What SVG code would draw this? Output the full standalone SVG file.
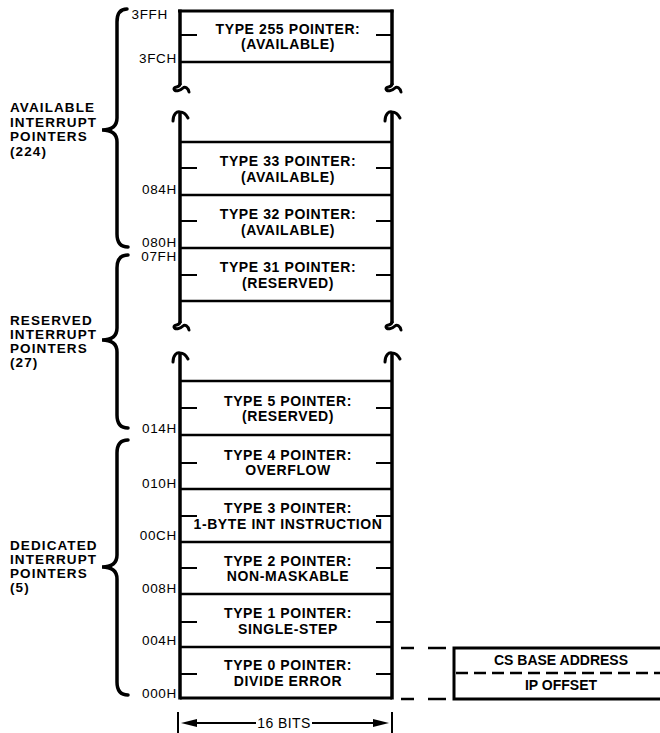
<svg xmlns="http://www.w3.org/2000/svg" width="660" height="733" viewBox="0 0 660 733">
<style>
.h{stroke:#000;stroke-width:2.5;fill:none}
.v{stroke:#000;stroke-width:3.5;fill:none}
.tk{stroke:#000;stroke-width:2;fill:none}
.br{stroke:#000;stroke-width:3;fill:none;stroke-linecap:round}
.bc{stroke:#000;stroke-width:3.5;fill:none;stroke-linecap:round;stroke-linejoin:miter}
.t{font-family:"Liberation Sans",Arial,sans-serif;font-size:14px;font-weight:bold;letter-spacing:0.6px;text-anchor:middle;fill:#000}
.a{font-family:"Liberation Sans",Arial,sans-serif;font-size:13.5px;letter-spacing:0.7px;text-anchor:end;fill:#000}
.g{font-family:"Liberation Sans",Arial,sans-serif;font-size:13.5px;font-weight:bold;letter-spacing:1.1px;fill:#000}
.r{font-family:"Liberation Sans",Arial,sans-serif;font-size:14px;font-weight:bold;text-anchor:middle;fill:#000}
.d{stroke:#000;stroke-width:2.5;fill:none}
</style>
<rect width="660" height="733" fill="#fff"/>

<g id="frame">
  <line class="v" x1="180" y1="9.5" x2="180" y2="85"/>
  <line class="v" x1="392" y1="9.5" x2="392" y2="85"/>
  <path class="br" d="M180,84 C180,88 174,86 174,89 C175,92 180,91 183,88 C185,86 188,88 189,92"/>
  <path class="br" d="M392,84 C392,88 386,86 386,89 C387,92 392,91 395,88 C397,86 400,88 401,92"/>
  <path class="br" d="M173,121 C173,114 177,111 180,112 C183,112 186,114 188,118"/>
  <path class="br" d="M385,121 C385,114 389,111 392,112 C395,112 398,114 400,118"/>
  <line class="v" x1="180" y1="113" x2="180" y2="323"/>
  <line class="v" x1="392" y1="113" x2="392" y2="323"/>
  <path class="br" d="M180,322 C180,326 174,324 174,327 C175,330 180,329 183,326 C185,324 188,326 189,330"/>
  <path class="br" d="M392,322 C392,326 386,324 386,327 C387,330 392,329 395,326 C397,324 400,326 401,330"/>
  <path class="br" d="M173,362 C173,355 177,352 180,353 C183,353 186,355 188,359"/>
  <path class="br" d="M385,362 C385,355 389,352 392,353 C395,353 398,355 400,359"/>
  <line class="v" x1="180" y1="354" x2="180" y2="699.5"/>
  <line class="v" x1="392" y1="354" x2="392" y2="699.5"/>
  <line class="h" x1="180" y1="62" x2="392" y2="62"/>
  <line class="h" x1="180" y1="301" x2="392" y2="301"/>
  <line class="h" x1="180" y1="698" x2="392" y2="698" style="stroke-width:3"/>
</g>

<g id="cell-255">
  <line class="h" x1="178" y1="11" x2="393.5" y2="11" style="stroke-width:3"/>
  <line class="tk" x1="180" y1="35" x2="197" y2="35"/><line class="tk" x1="376" y1="35" x2="392" y2="35"/>
  <text class="t" x="288" y="33.5">TYPE 255 POINTER:</text>
  <text class="t" x="288" y="49">(AVAILABLE)</text>
</g>
<g id="cell-33">
  <line class="h" x1="180" y1="142" x2="392" y2="142"/>
  <line class="tk" x1="180" y1="168" x2="197" y2="168"/><line class="tk" x1="376" y1="168" x2="392" y2="168"/>
  <text class="t" x="288" y="166">TYPE 33 POINTER:</text>
  <text class="t" x="288" y="181.5">(AVAILABLE)</text>
</g>
<g id="cell-32">
  <line class="h" x1="180" y1="195" x2="392" y2="195"/>
  <line class="tk" x1="180" y1="221" x2="197" y2="221"/><line class="tk" x1="376" y1="221" x2="392" y2="221"/>
  <text class="t" x="288" y="219">TYPE 32 POINTER:</text>
  <text class="t" x="288" y="234.5">(AVAILABLE)</text>
</g>
<g id="cell-31">
  <line class="h" x1="180" y1="248" x2="392" y2="248"/>
  <line class="tk" x1="180" y1="275" x2="197" y2="275"/><line class="tk" x1="376" y1="275" x2="392" y2="275"/>
  <text class="t" x="288" y="272">TYPE 31 POINTER:</text>
  <text class="t" x="288" y="287.5">(RESERVED)</text>
</g>
<g id="cell-5">
  <line class="h" x1="180" y1="381" x2="392" y2="381"/>
  <line class="tk" x1="180" y1="408" x2="197" y2="408"/><line class="tk" x1="376" y1="408" x2="392" y2="408"/>
  <text class="t" x="288" y="405.5">TYPE 5 POINTER:</text>
  <text class="t" x="288" y="421">(RESERVED)</text>
</g>
<g id="cell-4">
  <line class="h" x1="180" y1="435" x2="392" y2="435"/>
  <line class="tk" x1="180" y1="463" x2="197" y2="463"/><line class="tk" x1="376" y1="463" x2="392" y2="463"/>
  <text class="t" x="288" y="459.5">TYPE 4 POINTER:</text>
  <text class="t" x="288" y="475">OVERFLOW</text>
</g>
<g id="cell-3">
  <line class="h" x1="180" y1="489" x2="392" y2="489"/>
  <line class="tk" x1="180" y1="516" x2="197" y2="516"/><line class="tk" x1="376" y1="516" x2="392" y2="516"/>
  <text class="t" x="288" y="513">TYPE 3 POINTER:</text>
  <text class="t" x="288" y="528.5">1-BYTE INT INSTRUCTION</text>
</g>
<g id="cell-2">
  <line class="h" x1="180" y1="542" x2="392" y2="542"/>
  <line class="tk" x1="180" y1="568" x2="197" y2="568"/><line class="tk" x1="376" y1="568" x2="392" y2="568"/>
  <text class="t" x="288" y="565.5">TYPE 2 POINTER:</text>
  <text class="t" x="288" y="581">NON-MASKABLE</text>
</g>
<g id="cell-1">
  <line class="h" x1="180" y1="594" x2="392" y2="594"/>
  <line class="tk" x1="180" y1="622" x2="197" y2="622"/><line class="tk" x1="376" y1="622" x2="392" y2="622"/>
  <text class="t" x="288" y="618">TYPE 1 POINTER:</text>
  <text class="t" x="288" y="633.5">SINGLE-STEP</text>
</g>
<g id="cell-0">
  <line class="h" x1="180" y1="647" x2="392" y2="647"/>
  <line class="tk" x1="180" y1="674" x2="197" y2="674"/><line class="tk" x1="376" y1="674" x2="392" y2="674"/>
  <text class="t" x="288" y="670">TYPE 0 POINTER:</text>
  <text class="t" x="288" y="685.5">DIVIDE ERROR</text>
</g>

<g id="addresses">
  <text class="a" x="168" y="19">3FFH</text>
  <text class="a" x="177" y="63">3FCH</text>
  <text class="a" x="177" y="194">084H</text>
  <text class="a" x="177" y="246.5">080H</text>
  <text class="a" x="177" y="261">07FH</text>
  <text class="a" x="177" y="433">014H</text>
  <text class="a" x="177" y="488">010H</text>
  <text class="a" x="177" y="540">00CH</text>
  <text class="a" x="177" y="593">008H</text>
  <text class="a" x="177" y="645">004H</text>
  <text class="a" x="177" y="698">000H</text>
</g>

<g id="group-available">
  <path class="bc" d="M127,9 Q117,9 117,22 L117,118 Q117,130 102,130 Q117,130 117,142 L117,234 Q117,247 128,247"/>
  <text class="g" x="10" y="112">AVAILABLE</text>
  <text class="g" x="10" y="126.5">INTERRUPT</text>
  <text class="g" x="10" y="141">POINTERS</text>
  <text class="g" x="10" y="155.5">(224)</text>
</g>
<g id="group-reserved">
  <path class="bc" d="M128,255 Q117,255 117,268 L117,328 Q117,340 102,340 Q117,340 117,352 L117,415 Q117,428 128,428"/>
  <text class="g" x="10" y="325">RESERVED</text>
  <text class="g" x="10" y="339">INTERRUPT</text>
  <text class="g" x="10" y="353">POINTERS</text>
  <text class="g" x="10" y="367">(27)</text>
</g>
<g id="group-dedicated">
  <path class="bc" d="M128,440 Q117,440 117,453 L117,555 Q117,567 102,567 Q117,567 117,579 L117,682 Q117,695 128,695"/>
  <text class="g" x="10" y="550">DEDICATED</text>
  <text class="g" x="10" y="564">INTERRUPT</text>
  <text class="g" x="10" y="578">POINTERS</text>
  <text class="g" x="10" y="592">(5)</text>
</g>

<g id="pointer-detail">
  <rect x="454" y="648" width="215" height="51" fill="none" stroke="#000" stroke-width="3"/>
  <line class="d" x1="456" y1="673" x2="660" y2="673" stroke-dasharray="12 6"/>
  <text class="r" x="561" y="665">CS BASE ADDRESS</text>
  <text class="r" x="561" y="690">IP OFFSET</text>
</g>

<g id="connectors">
  <line class="d" x1="401" y1="648" x2="414" y2="648"/>
  <line class="d" x1="428" y1="648" x2="446" y2="648"/>
  <line class="d" x1="401" y1="699" x2="414" y2="699"/>
  <line class="d" x1="428" y1="699" x2="446" y2="699"/>
</g>

<g id="width-dimension">
  <line class="tk" x1="178" y1="712" x2="178" y2="733"/>
  <line class="tk" x1="392" y1="712" x2="392" y2="733"/>
  <line class="tk" x1="190" y1="723" x2="256" y2="723"/>
  <line class="tk" x1="312" y1="723" x2="380" y2="723"/>
  <polygon points="181,723 197,719 197,727" fill="#000"/>
  <polygon points="389,723 373,719 373,727" fill="#000"/>
  <text class="r" x="284" y="728" style="font-weight:normal;letter-spacing:0.4px">16 BITS</text>
</g>
</svg>
